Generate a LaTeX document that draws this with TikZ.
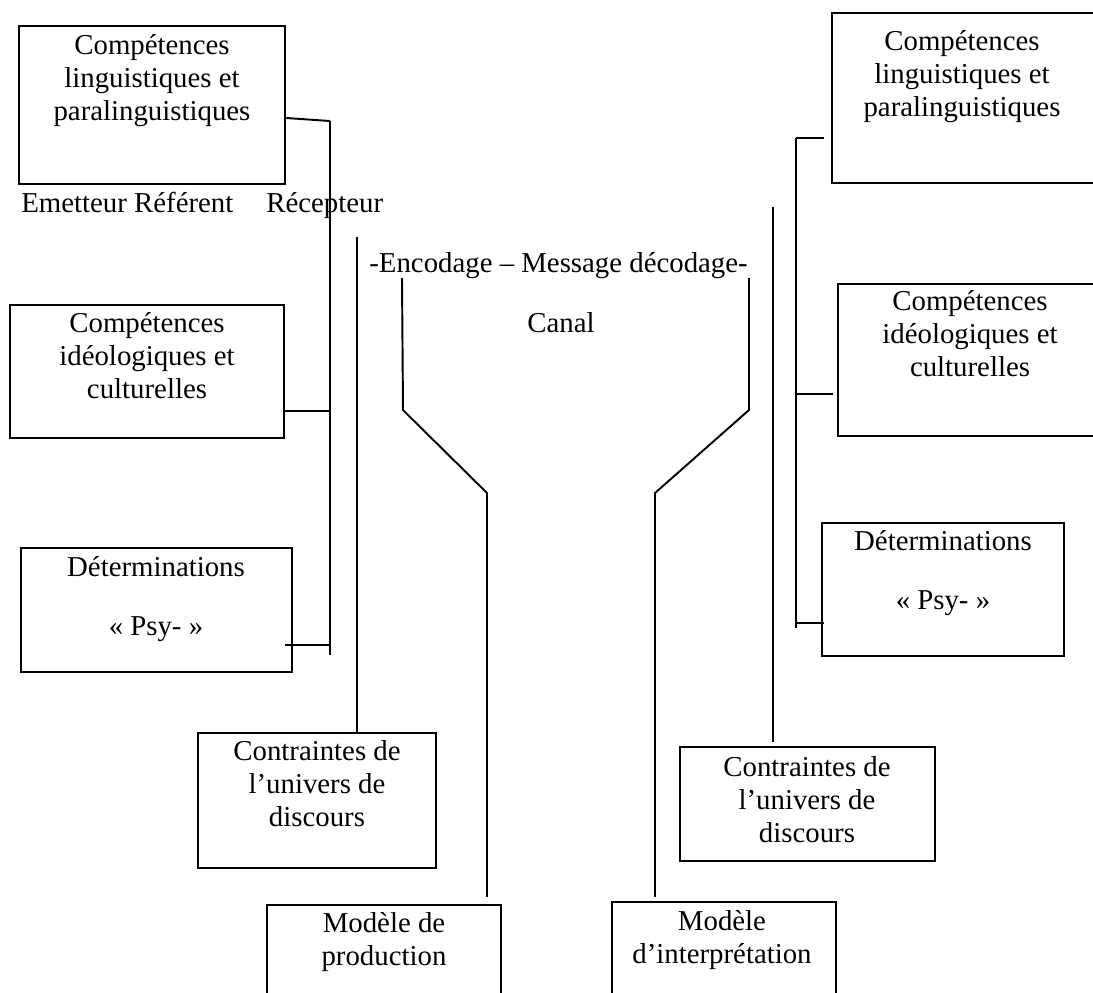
\documentclass[tikz,border=0pt]{standalone}
\usepackage{fontspec}
\setmainfont{Liberation Serif}
\begin{document}
\begin{tikzpicture}[x=0.02cm,y=-0.02cm,
  box/.style={draw, line width=1.4pt, inner sep=0pt},
  lbl/.style={anchor=north, align=center, inner sep=0pt, font=\fontsize{16.4}{18.8}\selectfont},
  txt/.style={anchor=base west, inner sep=0pt, font=\fontsize{16.4}{18.8}\selectfont},
  ln/.style={line width=1.1pt}]
\useasboundingbox (0,0) rectangle (1093,992);
\newcommand\boxat[5]{\node[box, minimum width={(#4-#2)*0.02cm}, minimum height={(#5-#3)*0.02cm}] (#1) at ({(#2+#4)/2},{(#3+#5)/2}) {};}
% boxes
\boxat{b1}{19}{26}{285}{184}
\boxat{b2}{10}{305}{284}{438}
\boxat{b3}{21}{548}{292}{672}
\boxat{bC1}{198}{733}{436}{868}
\boxat{bM1}{267}{905}{501}{1010}
\boxat{bR1}{832}{13}{1110}{183}
\boxat{bR2}{838}{284}{1110}{436}
\boxat{bR3}{822}{523}{1064}{656}
\boxat{bC2}{680}{747}{935}{861}
\boxat{bM2}{612}{902}{836}{1010}
% box texts
\node[lbl] (t1) at (152,30.9) {\strut Compétences\\linguistiques et\\paralinguistiques};
\node[lbl] (t2) at (147,308.9) {\strut Compétences\\idéologiques et\\culturelles};
\node[lbl] (t3) at (156,552.9) {\strut Déterminations\\[14.8pt]«~Psy-~»};
\node[lbl] (tR1) at (962,26.9) {\strut Compétences\\linguistiques et\\paralinguistiques};
\node[lbl] (tR2) at (970,286.9) {\strut Compétences\\idéologiques et\\culturelles};
\node[lbl] (tR3) at (943,526.9) {\strut Déterminations\\[14.8pt]«~Psy-~»};
\node[lbl] (tC1) at (317,736.9) {\strut Contraintes de\\l’univers de\\discours};
\node[lbl] (tC2) at (807,752.9) {\strut Contraintes de\\l’univers de\\discours};
\node[lbl] (tM1) at (384,908.9) {\strut Modèle de\\production};
\node[lbl] (tM2) at (722,906.9) {\strut Modèle\\d’interprétation};
% free texts
\node[txt] (emet) at (21,212) {Emetteur Référent};
\node[txt] (recep) at (266,212) {Récepteur};
\node[txt] (enc) at (369,272) {-Encodage – Message décodage-};
\node[anchor=base, inner sep=0pt, font=\fontsize{16.4}{18.8}\selectfont] (canal) at (561,332) {Canal};
% left bracket
\coordinate (lT) at (330,121);
\coordinate (lB) at (330,655);
\coordinate (l2) at (330,411);
\coordinate (l3) at (330,645);
\draw[ln] (lT) -- (lB);
\draw[ln] ([yshift=-0.26cm]b1.east) -- (lT);
\draw[ln] ([yshift=-0.79cm]b2.east) -- (l2);
\draw[ln] ([xshift=-0.16cm,yshift=-0.7cm]b3.east) -- (l3);
% right bracket
\coordinate (rT) at (796,138);
\coordinate (rB) at (796,628);
\coordinate (r2) at (796,394);
\coordinate (r3) at (796,623);
\draw[ln] (rT) -- (rB);
\draw[ln] (rT) -- ([xshift=-0.14cm,yshift=-0.8cm]bR1.west);
\draw[ln] (r2) -- ([xshift=-0.08cm,yshift=-0.68cm]bR2.west);
\draw[ln] (r3) -- ([xshift=0.06cm,yshift=-0.67cm]bR3.west);
% verticals to Contraintes
\coordinate (v1) at (357,237);
\coordinate (v2) at (773,207);
\draw[ln] (v1) -- ([xshift=0.8cm]bC1.north);
\draw[ln] (v2) -- ([xshift=-0.69cm,yshift=0.08cm]bC2.north);
% funnel
\coordinate (fl1) at (402,278);
\coordinate (fl2) at (403,410);
\coordinate (fl3) at (487,493);
\coordinate (fr1) at (749,278);
\coordinate (fr2) at (749,410);
\coordinate (fr3) at (655,493);
\draw[ln] (fl1) -- (fl2) -- (fl3) -- ([xshift=2.06cm,yshift=0.14cm]bM1.north);
\draw[ln] (fr1) -- (fr2) -- (fr3) -- ([xshift=-1.38cm,yshift=0.08cm]bM2.north);
\end{tikzpicture}
\end{document}
